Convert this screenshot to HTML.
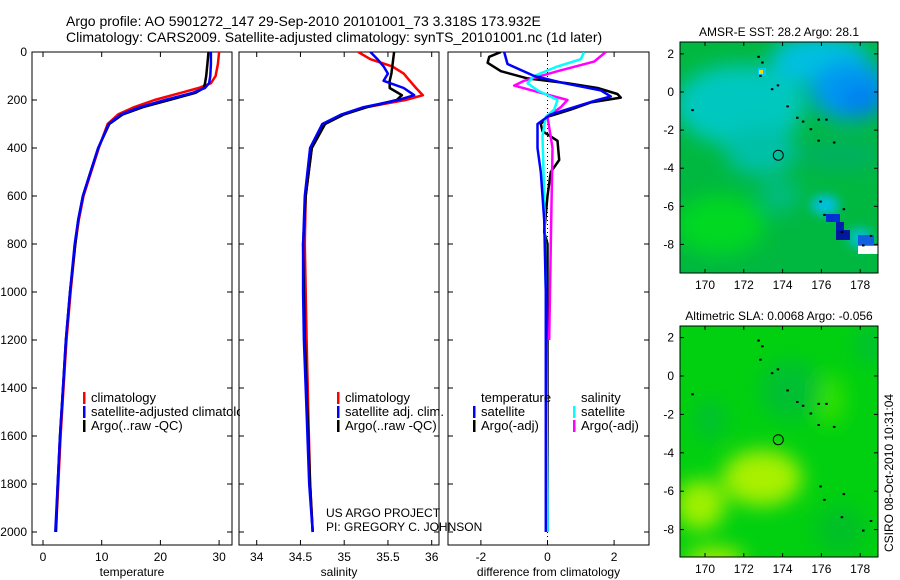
<!DOCTYPE html>
<html><head><meta charset="utf-8"><style>
body{margin:0;background:#fff;}
svg{display:block;font-family:"Liberation Sans",sans-serif;}
</style></head><body>
<svg id="c" width="900" height="580" viewBox="0 0 900 580">
<defs>
<filter id="bl" x="-50%" y="-50%" width="200%" height="200%"><feGaussianBlur stdDeviation="10"/></filter>
<filter id="bl2" x="-50%" y="-50%" width="200%" height="200%"><feGaussianBlur stdDeviation="5"/></filter>
<clipPath id="m1"><rect x="680" y="42" width="198" height="231"/></clipPath>
<clipPath id="m2"><rect x="680" y="326" width="198" height="231"/></clipPath>
<clipPath id="p1"><rect x="32" y="52" width="200" height="493"/></clipPath>
<clipPath id="p2"><rect x="239" y="52" width="200" height="493"/></clipPath>
<clipPath id="p3"><rect x="448" y="52" width="201" height="493"/></clipPath>
<clipPath id="lg1"><rect x="32" y="52" width="208" height="493"/></clipPath>
</defs>
<text x="66" y="26" font-size="14">Argo profile: AO 5901272_147 29-Sep-2010 20101001_73 3.318S 173.932E</text>
<text x="66" y="42" font-size="14">Climatology: CARS2009. Satellite-adjusted climatology: synTS_20101001.nc (1d later)</text>

<!-- top map -->
<g clip-path="url(#m1)">
<rect x="680" y="42" width="198" height="231" fill="#00b840"/>
<g filter="url(#bl)">
<ellipse cx="740" cy="105" rx="65" ry="40" fill="#00c8c0"/>
<ellipse cx="760" cy="150" rx="35" ry="25" fill="#00c0a8"/>
<ellipse cx="780" cy="195" rx="20" ry="18" fill="#00bc80"/>
<ellipse cx="820" cy="60" rx="50" ry="25" fill="#00c0e0"/>
<ellipse cx="850" cy="90" rx="40" ry="30" fill="#0098f0"/>
<ellipse cx="862" cy="100" rx="22" ry="16" fill="#0080f0"/>
<ellipse cx="720" cy="225" rx="45" ry="30" fill="#00d820"/>
<ellipse cx="840" cy="155" rx="45" ry="15" fill="#00b060"/>
</g>
<g filter="url(#bl2)">
<ellipse cx="825" cy="205" rx="14" ry="10" fill="#00c0e0"/>
<ellipse cx="860" cy="238" rx="12" ry="10" fill="#00c0d0"/>
</g>
<rect x="826" y="214" width="14" height="8" fill="#0030d0"/>
<rect x="836" y="222" width="8" height="8" fill="#0020b0"/>
<rect x="836" y="230" width="14" height="10" fill="#0018a0"/>
<rect x="858" y="235" width="16" height="10" fill="#1060e0"/>
<rect x="858" y="246" width="20" height="8" fill="#fff"/>
<rect x="758" y="68" width="8" height="8" fill="#00c8ff"/>
<rect x="759" y="70" width="4" height="4" fill="#f0e000"/>
</g>
<rect x="680" y="42" width="198" height="231" fill="none" stroke="#000"/>
<text x="779" y="36" font-size="12" text-anchor="middle">AMSR-E SST: 28.2 Argo: 28.1</text>

<!-- bottom map -->
<g clip-path="url(#m2)">
<rect x="680" y="326" width="198" height="231" fill="#00d010"/>
<g filter="url(#bl)">
<ellipse cx="762" cy="478" rx="40" ry="28" fill="#a8f000"/>
<ellipse cx="700" cy="505" rx="25" ry="25" fill="#a0f000"/>
<ellipse cx="715" cy="560" rx="30" ry="12" fill="#b0f000"/>
<ellipse cx="830" cy="400" rx="15" ry="25" fill="#30e000"/>
<ellipse cx="790" cy="390" rx="30" ry="30" fill="#00c030"/>
<ellipse cx="870" cy="345" rx="15" ry="20" fill="#00c030"/>
<ellipse cx="710" cy="420" rx="15" ry="20" fill="#00c030"/>
<ellipse cx="840" cy="530" rx="25" ry="25" fill="#00c028"/>
</g>
</g>
<rect x="680" y="326" width="198" height="231" fill="none" stroke="#000"/>
<text x="779" y="320" font-size="12" text-anchor="middle">Altimetric SLA: 0.0068 Argo: -0.056</text>
<text transform="translate(893,552) rotate(-90)" font-size="12">CSIRO 08-Oct-2010 10:31:04</text>

<text x="326" y="517" font-size="12">US ARGO PROJECT</text>
<text x="326" y="531" font-size="12">PI: GREGORY C. JOHNSON</text>
<g id="g"></g>
</svg>
<script>
// ---------------- data ----------------
const tempPres   = [0, 50, 100, 130, 150, 170, 200, 230, 260, 300, 400, 500, 600, 700, 800, 1000, 1200, 1400, 1600, 1800, 2000];
const tempClim   = [30.0, 29.8, 29.4, 28.6, 26.5, 23.5, 19.0, 15.5, 12.8, 11.0, 9.5, 8.2, 6.9, 6.1, 5.5, 4.7, 4.0, 3.5, 3.0, 2.6, 2.2];
const tempSat    = [28.6, 28.6, 28.5, 28.3, 27.6, 25.5, 20.8, 16.5, 13.3, 11.2, 9.4, 8.1, 6.8, 6.0, 5.4, 4.6, 3.9, 3.4, 2.9, 2.5, 2.1];
const tempArgo   = [28.2, 28.0, 27.8, 27.6, 27.4, 26.0, 21.5, 17.0, 13.6, 11.3, 9.4, 8.1, 6.8, 6.0, 5.5, 4.6, 3.9, 3.4, 2.9, 2.5, 2.2];
const salPres    = [0, 30, 60, 90, 120, 150, 180, 200, 230, 260, 300, 400, 600, 800, 1000, 1200, 1500, 1800, 2000];
const salClim    = [35.16, 35.30, 35.55, 35.68, 35.75, 35.82, 35.90, 35.70, 35.25, 34.98, 34.78, 34.63, 34.56, 34.55, 34.56, 34.57, 34.59, 34.61, 34.64];
const salSat     = [35.30, 35.38, 35.45, 35.50, 35.45, 35.68, 35.80, 35.62, 35.22, 34.97, 34.75, 34.61, 34.55, 34.53, 34.53, 34.54, 34.57, 34.60, 34.64];
const salArgo    = [35.57, 35.56, 35.55, 35.54, 35.52, 35.52, 35.66, 35.60, 35.26, 35.00, 34.78, 34.63, 34.56, 34.53, 34.54, 34.55, 34.58, 34.61, 34.64];
const dTArgoPres = [0, 20, 45, 80, 110, 130, 150, 175, 190, 210, 240, 270, 300, 330, 370, 450, 500, 600, 750, 800, 1000, 2000];
const dTArgo     = [-1.4, -1.75, -1.8, -1.4, -0.6, 0.6, 1.5, 2.1, 2.2, 1.3, 0.7, 0.0, -0.2, -0.15, 0.3, 0.35, 0.1, 0.0, -0.1, 0.0, 0.0, 0.0];
const dTSatPres  = [0, 50, 100, 130, 160, 185, 200, 230, 260, 300, 400, 500, 700, 1000, 2000];
const dTSat      = [-1.3, -1.2, -0.4, 0.5, 1.6, 1.9, 1.5, 0.8, 0.1, -0.3, -0.3, -0.2, -0.1, -0.05, -0.05];
const dSSatPres  = [0, 30, 60, 100, 130, 160, 200, 240, 270, 350, 600, 1000, 2000];
const dSSat      = [1.1, 1.0, 0.3, -0.4, -0.6, -0.3, 0.3, 0.2, -0.05, -0.15, -0.1, -0.05, 0.0];
const dSArgoPres = [0, 40, 80, 120, 140, 170, 200, 230, 270, 400, 800, 1200];
const dSArgo     = [1.75, 1.4, 0.3, -0.7, -1.0, -0.2, 0.6, 0.4, 0.0, 0.15, 0.1, 0.05];
const presTicks  = [0, 200, 400, 600, 800, 1000, 1200, 1400, 1600, 1800, 2000];
const tTicks     = [0, 10, 20, 30];
const sTicks     = [34, 34.5, 35, 35.5, 36];
const dTicks     = [-2, 0, 2];
const lonTicks   = [170, 172, 174, 176, 178];
const latTicks   = [2, 0, -2, -4, -6, -8];
const floatLon = 173.932, floatLat = -3.318;

// ---------------- axes ----------------
const NS = 'http://www.w3.org/2000/svg';
const G = document.getElementById('g');
const yP = p => 52 + p * 0.24;
const xT = t => 43 + t * 5.87;
const xS = s => 256.7 + (s - 34) * 87.5;
const xD = d => 547.5 + d * 33.3;
const xLon = l => 705 + (l - 170) * 19.4;
const yLat1 = a => 92 - a * 19.05;
const yLat2 = a => 376 - a * 19.2;

function el(tag, attrs, parent) {
  const e = document.createElementNS(NS, tag);
  for (const k in attrs) e.setAttribute(k, attrs[k]);
  (parent || G).appendChild(e);
  return e;
}
function txt(x, y, s, anchor, size) {
  const t = el('text', {x: x, y: y, 'font-size': size || 12, 'text-anchor': anchor || 'middle'});
  t.textContent = s;
  return t;
}
function line(xs, ps, fx, color, clip, w) {
  let d = '';
  for (let i = 0; i < xs.length; i++) d += (i ? 'L' : 'M') + fx(xs[i]).toFixed(1) + ',' + yP(ps[i]).toFixed(1);
  return el('path', {d: d, fill: 'none', stroke: color, 'stroke-width': w || 2.5, 'stroke-linejoin': 'round', 'clip-path': 'url(#' + clip + ')'});
}

function panel(x0, x1, ticks, fx, label, name, clip) {
  const f = el('rect', {x: x0, y: 52, width: x1 - x0, height: 493, fill: 'none', stroke: '#000'});
  
  
  ticks.forEach(v => {
    const x = fx(v);
    el('line', {x1: x, x2: x, y1: 545, y2: 540, stroke: '#000'});
    el('line', {x1: x, x2: x, y1: 52, y2: 57, stroke: '#000'});
    const t = txt(x, 561, String(v));
    
    
  });
  presTicks.forEach(p => {
    el('line', {x1: x0, x2: x0 + 5, y1: yP(p), y2: yP(p), stroke: '#000'});
    el('line', {x1: x1, x2: x1 - 5, y1: yP(p), y2: yP(p), stroke: '#000'});
  });
  const l = txt((x0 + x1) / 2, 576, label);
  
  
}
panel(32, 232, tTicks, xT, 'temperature', 'temperature', 'p1');
panel(239, 439, sTicks, xS, 'salinity', 'salinity', 'p2');
panel(448, 649, dTicks, xD, 'difference from climatology', 'difference', 'p3');
presTicks.forEach(p => {
  const t = txt(27, yP(p) + 4, String(p), 'end');
  
  
});
el('line', {x1: xD(0), x2: xD(0), y1: 52, y2: 545, stroke: '#000', 'stroke-dasharray': '1,3'});

let s;
s = line(tempClim, tempPres, xT, '#f00', 'p1');  
s = line(tempArgo, tempPres, xT, '#000', 'p1');  
s = line(tempSat, tempPres, xT, '#00f', 'p1');  
s = line(salClim, salPres, xS, '#f00', 'p2');  
s = line(salArgo, salPres, xS, '#000', 'p2');  
s = line(salSat, salPres, xS, '#00f', 'p2');  
s = line(dTArgo, dTArgoPres, xD, '#000', 'p3');  
s = line(dSArgo, dSArgoPres, xD, '#f0f', 'p3');  
s = line(dSSat, dSSatPres, xD, '#0ff', 'p3');  
s = line(dTSat, dTSatPres, xD, '#00f', 'p3');  

function legend(x, y, color, label, clip) {
  const m = el('rect', {x: x, y: y - 10, width: 2.5, height: 12, fill: color});
  
  
  const t = txt(x + 8, y, label, 'start', 13);
  if (clip) t.setAttribute('clip-path', 'url(#' + clip + ')');
  
  
}
legend(83, 402, '#f00', 'climatology');
legend(83, 416, '#00f', 'satellite-adjusted climatology', 'lg1');
legend(83, 430, '#000', 'Argo(..raw -QC)');
legend(337, 402, '#f00', 'climatology');
legend(337, 416, '#00f', 'satellite adj. clim.');
legend(337, 430, '#000', 'Argo(..raw -QC)');
let h = txt(481, 402, 'temperature', 'start', 13);  
h = txt(581, 402, 'salinity', 'start', 13);  
legend(473, 416, '#00f', 'satellite');
legend(473, 430, '#000', 'Argo(-adj)');
legend(573, 416, '#0ff', 'satellite');
legend(573, 430, '#f0f', 'Argo(-adj)');

function mapAxes(y0, y1, fy, name) {
  lonTicks.forEach(l => {
    const x = xLon(l);
    el('line', {x1: x, x2: x, y1: y1, y2: y1 - 4, stroke: '#000'});
    el('line', {x1: x, x2: x, y1: y0, y2: y0 + 4, stroke: '#000'});
    const t = txt(x, y1 + 16, String(l));
    
    
  });
  latTicks.forEach(a => {
    const y = fy(a);
    el('line', {x1: 680, x2: 684, y1: y, y2: y, stroke: '#000'});
    el('line', {x1: 878, x2: 874, y1: y, y2: y, stroke: '#000'});
    const t = txt(674, y + 4, String(a), 'end');
    
    
  });
  const c = el('circle', {cx: xLon(floatLon) - 3, cy: fy(floatLat), r: 5, fill: 'none', stroke: '#000'});
  
  
  const isl = [[172.9,1.9],[173.1,1.6],[173.0,0.9],[173.6,0.2],[173.9,0.4],[174.4,-0.7],[174.9,-1.3],[175.2,-1.5],[175.6,-1.9],[176.0,-1.4],[176.4,-1.4],[176.0,-2.5],[176.8,-2.6],[169.5,-0.9],[176.1,-5.7],[176.3,-6.4],[177.3,-6.1],[177.2,-7.3],[178.3,-8.0],[178.7,-7.5]];
  isl.forEach(p => el('rect', {x: xLon(p[0]) - 4, y: fy(p[1]), width: 2.5, height: 2, fill: '#000'}));
}
mapAxes(42, 273, yLat1, 'sst-map');
mapAxes(326, 557, yLat2, 'sla-map');
</script>
</body></html>
